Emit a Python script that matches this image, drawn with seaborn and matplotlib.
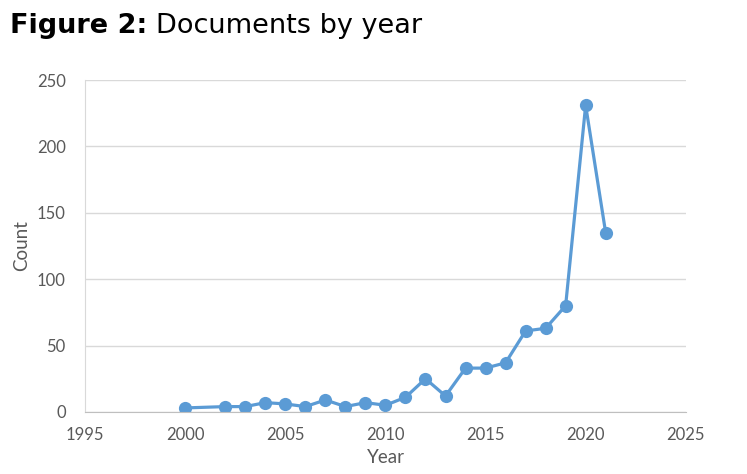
import matplotlib
matplotlib.use("Agg")
import matplotlib.pyplot as plt
import seaborn as sns
import pandas as pd

years = [2000, 2002, 2003, 2004, 2005, 2006, 2007, 2008, 2009, 2010, 2011,
         2012, 2013, 2014, 2015, 2016, 2017, 2018, 2019, 2020, 2021]
counts = [3, 4, 4, 7, 6, 4, 9, 4, 7, 5, 11,
          25, 12, 33, 33, 37, 61, 63, 80, 231, 135]
x_ticks = [1995, 2000, 2005, 2010, 2015, 2020, 2025]
y_ticks = [0, 50, 100, 150, 200, 250]

df = pd.DataFrame({"Year": years, "Count": counts})

sns.set_style("white")
plt.rcParams['font.family'] = ['Lato', 'DejaVu Sans']

fig = plt.figure(figsize=(7.47, 4.74), dpi=100)
ax = fig.add_axes([0.114, 0.131, 0.804, 0.700])

sns.lineplot(data=df, x="Year", y="Count", ax=ax, color="#5B9BD5",
             linewidth=2.3, marker="o", markersize=9.5, markeredgewidth=0)

ax.set_xlim(1995, 2025)
ax.set_ylim(0, 250)
ax.set_xticks(x_ticks)
ax.set_yticks(y_ticks)
ax.yaxis.grid(True, color="#D9D9D9", linewidth=1)
ax.xaxis.grid(False)
ax.set_axisbelow(True)
for s in ["top", "right"]:
    ax.spines[s].set_visible(False)
ax.spines["left"].set_color("#D9D9D9")
ax.spines["bottom"].set_color("#BFBFBF")
ax.tick_params(axis="y", length=0, labelsize=12, colors="#595959", pad=14)
ax.tick_params(axis="x", length=0, labelsize=12, colors="#595959", pad=11)
ax.set_xlabel("Year", fontsize=13.5, color="#595959", labelpad=4)
ax.set_ylabel("Count", fontsize=13.5, color="#595959", labelpad=5)

# two-part title: bold prefix + normal text
t1 = fig.text(0.013, 0.93, "Figure 2:", fontsize=19.5, fontweight="bold",
              family="DejaVu Sans", color="black", va="baseline")
fig.canvas.draw()
bb = t1.get_window_extent()
x2 = (bb.x1 + 9) / fig.bbox.width
fig.text(x2, 0.93, "Documents by year", fontsize=19.5, family="DejaVu Sans",
         color="black", va="baseline")

fig.savefig("out.png", dpi=100)
